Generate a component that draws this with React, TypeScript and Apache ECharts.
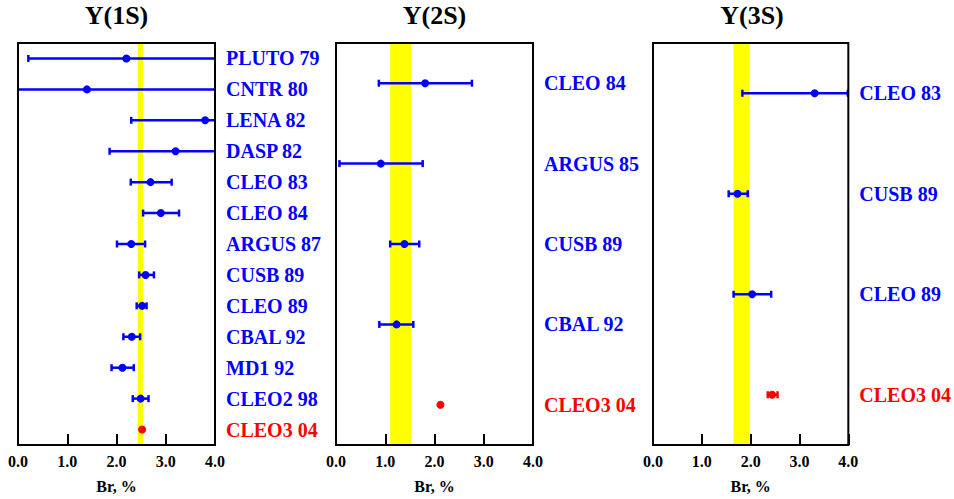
import React, { useEffect, useRef } from "react";
import * as echarts from "echarts";

const FONT = '"Liberation Serif", "Times New Roman", serif';
const BLUE = "#0000ff";
const RED = "#ff0000";
const YELLOW = "#ffff00";

const panelTitles = ["Υ(1S)", "Υ(2S)", "Υ(3S)"];
const xTickLabels = ["0.0", "1.0", "2.0", "3.0", "4.0"];
const xAxisName = "Br, %";
const highlighted = "CLEO3 04";

const names1S = ["PLUTO 79", "CNTR 80", "LENA 82", "DASP 82", "CLEO 83", "CLEO 84", "ARGUS 87", "CUSB 89", "CLEO 89", "CBAL 92", "MD1 92", "CLEO2 98", "CLEO3 04"];
const values1S = [2.2, 1.4, 3.8, 3.2, 2.69, 2.9, 2.3, 2.59, 2.52, 2.31, 2.12, 2.49, 2.52];
const low1S: (number | null)[] = [0.21, -0.3, 2.3, 1.86, 2.29, 2.54, 2.01, 2.46, 2.41, 2.14, 1.9, 2.33, null];
const high1S: (number | null)[] = [4.4, 4.4, 4.4, 4.4, 3.12, 3.27, 2.58, 2.76, 2.61, 2.48, 2.35, 2.65, null];
const band1S = [2.43, 2.54];

const names2S = ["CLEO 84", "ARGUS 85", "CUSB 89", "CBAL 92", "CLEO3 04"];
const values2S = [1.81, 0.91, 1.39, 1.23, 2.12];
const low2S: (number | null)[] = [0.87, 0.07, 1.1, 0.88, null];
const high2S: (number | null)[] = [2.76, 1.76, 1.69, 1.57, null];
const band2S = [1.1, 1.53];

const names3S = ["CLEO 83", "CUSB 89", "CLEO 89", "CLEO3 04"];
const values3S = [3.31, 1.73, 2.03, 2.44];
const low3S: (number | null)[] = [1.83, 1.55, 1.65, 2.35];
const high3S: (number | null)[] = [3.99, 1.94, 2.42, 2.55];
const band3S = [1.65, 1.98];

const panels = [
  { names: names1S, values: values1S, lows: low1S, highs: high1S, band: band1S },
  { names: names2S, values: values2S, lows: low2S, highs: high2S, band: band2S },
  { names: names3S, values: values3S, lows: low3S, highs: high3S, band: band3S },
];

const gridBoxes = [
  { left: 18, width: 197 },
  { left: 336, width: 197 },
  { left: 653, width: 198 },
];
const GRID_TOP = 43;
const GRID_H = 403;

const colorOf = (name: string) => (name === highlighted ? RED : BLUE);

function buildOption() {
  const grid: any[] = [];
  const xAxis: any[] = [];
  const yAxis: any[] = [];
  const series: any[] = [];
  const graphic: any[] = [];

  panels.forEach((p, k) => {
    const g = gridBoxes[k];
    grid.push({
      left: g.left,
      top: GRID_TOP,
      width: g.width,
      height: GRID_H,
      show: true,
      borderColor: "#000",
      borderWidth: 2,
      backgroundColor: "transparent",
      z: 5,
    });
    xAxis.push({
      type: "value",
      gridIndex: k,
      min: 0,
      max: 4,
      interval: 1,
      z: 6,
      splitLine: { show: false },
      axisLine: { show: false },
      axisTick: { show: true, inside: true, length: 11, lineStyle: { color: "#000", width: 2 } },
      axisLabel: {
        margin: 8,
        fontFamily: FONT,
        fontWeight: "bold",
        fontSize: 16,
        color: "#000",
        formatter: (v: number) => xTickLabels[Math.round(v)] ?? "",
      },
      name: xAxisName,
      nameLocation: "middle",
      nameGap: 33,
      nameTextStyle: { fontFamily: FONT, fontWeight: "bold", fontSize: 16, color: "#000" },
    });
    yAxis.push({
      type: "category",
      gridIndex: k,
      inverse: true,
      position: "right",
      boundaryGap: true,
      data: p.names.map((n) => ({ value: n, textStyle: { color: colorOf(n) } })),
      axisLine: { show: false },
      axisTick: { show: false },
      splitLine: { show: false },
      axisLabel: {
        margin: 11,
        fontFamily: FONT,
        fontWeight: "bold",
        fontSize: 20,
        padding: [3, 0, 0, 0],
      },
    });

    // yellow band
    series.push({
      type: "custom",
      xAxisIndex: k,
      yAxisIndex: k,
      z: 1,
      silent: true,
      encode: { x: [0, 1], y: 2 },
      data: [[p.band[0], p.band[1], 0]],
      renderItem: (params: any, api: any) => {
        const cs = params.coordSys;
        const a = api.coord([api.value(0), 0])[0];
        const b = api.coord([api.value(1), 0])[0];
        return {
          type: "rect",
          shape: { x: a, y: cs.y + 1, width: b - a, height: cs.height - 2 },
          style: { fill: YELLOW },
        };
      },
    });

    // error bars
    const errData: any[] = [];
    p.names.forEach((n, i) => {
      const lo = p.lows[i];
      const hi = p.highs[i];
      if (lo == null || hi == null) return;
      errData.push({ value: [lo, hi, i], itemStyle: { color: colorOf(n) } });
    });
    series.push({
      type: "custom",
      xAxisIndex: k,
      yAxisIndex: k,
      z: 3,
      silent: true,
      encode: { x: [0, 1], y: 2 },
      data: errData,
      renderItem: (params: any, api: any) => {
        const cs = params.coordSys;
        const idx = api.value(2);
        const p1 = api.coord([api.value(0), idx]);
        const p2 = api.coord([api.value(1), idx]);
        const xmin = cs.x;
        const xmax = cs.x + cs.width;
        const x1 = Math.max(p1[0], xmin);
        const x2 = Math.min(p2[0], xmax);
        const y = p1[1];
        const color = api.visual("color");
        const st = { stroke: color, lineWidth: 2.5 };
        const children: any[] = [
          { type: "line", shape: { x1, y1: y, x2, y2: y }, style: st },
        ];
        if (p1[0] >= xmin) children.push({ type: "line", shape: { x1: p1[0], y1: y - 3.5, x2: p1[0], y2: y + 3.5 }, style: st });
        if (p2[0] <= xmax) children.push({ type: "line", shape: { x1: p2[0], y1: y - 3.5, x2: p2[0], y2: y + 3.5 }, style: st });
        return { type: "group", children };
      },
    });

    // central values
    series.push({
      type: "scatter",
      xAxisIndex: k,
      yAxisIndex: k,
      z: 4,
      symbol: "circle",
      symbolSize: 8,
      silent: true,
      itemStyle: { opacity: 1 },
      data: p.values.map((v, i) => ({ value: [v, i], itemStyle: { color: colorOf(p.names[i]), opacity: 1 } })),
    });

    graphic.push({
      type: "text",
      x: g.left + g.width / 2,
      y: 15,
      style: {
        text: panelTitles[k],
        font: `bold 26px ${FONT}`,
        fill: "#000",
        align: "center",
        verticalAlign: "middle",
      },
    });
  });

  return {
    animation: false,
    backgroundColor: "#fff",
    grid,
    xAxis,
    yAxis,
    series,
    graphic,
  };
}

export default function App() {
  const ref = useRef<HTMLDivElement>(null);
  useEffect(() => {
    document.body.style.margin = "0";
    if (!ref.current) return;
    const chart = echarts.init(ref.current, undefined, { renderer: "svg" });
    chart.setOption(buildOption() as any);
    return () => chart.dispose();
  }, []);
  return <div ref={ref} style={{ width: 954, height: 499 }} />;
}
